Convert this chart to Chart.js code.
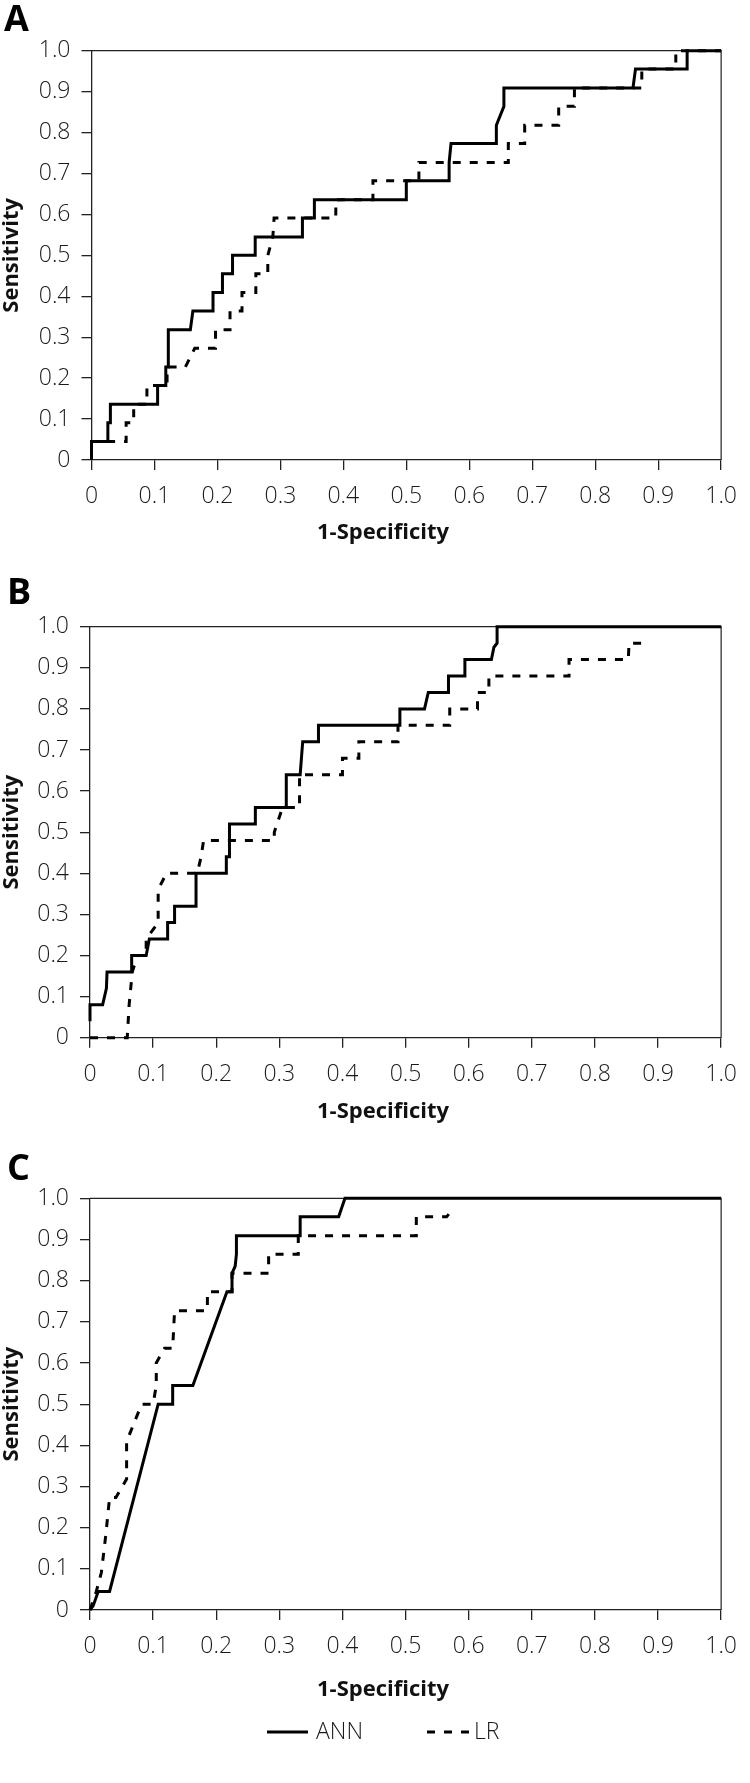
<!DOCTYPE html>
<html lang="en">
<head>
    <meta charset="UTF-8" />
    <title>ROC curves ANN vs LR</title>
    <script src="https://cdn.jsdelivr.net/npm/chart.js"></script>
    <style>
        body { margin: 0; background: #fff; }
        .panel { position: absolute; left: 0; width: 750px; }
    </style>
</head>
<body>

<div class="panel" style="top:0"><canvas id="chartA" width="750" height="560"></canvas></div>
<div class="panel" style="top:560px"><canvas id="chartB" width="750" height="575"></canvas></div>
<div class="panel" style="top:1135px"><canvas id="chartC" width="750" height="648"></canvas></div>

<script>
    // tick values / labels shared by every panel
    const tickValues = [0, 0.1, 0.2, 0.3, 0.4, 0.5, 0.6, 0.7, 0.8, 0.9, 1.0];
    const xTickLabels = ['0', '0.1', '0.2', '0.3', '0.4', '0.5', '0.6', '0.7', '0.8', '0.9', '1.0'];
    const yTickLabels = ['0', '0.1', '0.2', '0.3', '0.4', '0.5', '0.6', '0.7', '0.8', '0.9', '1.0'];
    const seriesNames = ['ANN', 'LR'];
    const panelLetters = ['A', 'B', 'C'];
    const xTitle = '1-Specificity';
    const yTitle = 'Sensitivity';

    // Panel A (1-specificity, sensitivity)
    const annAx = [0, 0, 0.026, 0.026, 0.030, 0.030, 0.105, 0.105, 0.118, 0.118, 0.122, 0.122, 0.157, 0.161, 0.193, 0.193, 0.208, 0.208, 0.224, 0.224, 0.260, 0.260, 0.335, 0.335, 0.354, 0.354, 0.500, 0.500, 0.568, 0.568, 0.571, 0.643, 0.643, 0.655, 0.655, 0.860, 0.864, 0.946, 0.946, 1.0];
    const annAy = [0, 0.045, 0.045, 0.091, 0.091, 0.136, 0.136, 0.182, 0.182, 0.227, 0.227, 0.318, 0.318, 0.364, 0.364, 0.409, 0.409, 0.455, 0.455, 0.500, 0.500, 0.545, 0.545, 0.591, 0.591, 0.636, 0.636, 0.682, 0.682, 0.727, 0.773, 0.773, 0.818, 0.864, 0.909, 0.909, 0.955, 0.955, 1.0, 1.0];
    const lrAx = [0, 0, 0.055, 0.055, 0.067, 0.067, 0.088, 0.088, 0.120, 0.120, 0.149, 0.164, 0.197, 0.197, 0.220, 0.220, 0.239, 0.239, 0.261, 0.261, 0.280, 0.280, 0.288, 0.290, 0.388, 0.388, 0.447, 0.447, 0.520, 0.520, 0.662, 0.662, 0.688, 0.688, 0.742, 0.742, 0.767, 0.767, 0.874, 0.874, 0.928, 0.928, 1.0];
    const lrAy = [0, 0.045, 0.045, 0.091, 0.091, 0.136, 0.136, 0.182, 0.182, 0.227, 0.227, 0.273, 0.273, 0.318, 0.318, 0.364, 0.364, 0.409, 0.409, 0.455, 0.455, 0.500, 0.545, 0.591, 0.591, 0.636, 0.636, 0.682, 0.682, 0.727, 0.727, 0.773, 0.773, 0.818, 0.818, 0.864, 0.864, 0.909, 0.909, 0.955, 0.955, 1.0, 1.0];

    // Panel B
    const annBx = [0, 0, 0.020, 0.026, 0.027, 0.066, 0.066, 0.089, 0.094, 0.123, 0.123, 0.134, 0.134, 0.168, 0.168, 0.216, 0.216, 0.221, 0.221, 0.262, 0.262, 0.311, 0.311, 0.333, 0.335, 0.337, 0.362, 0.362, 0.491, 0.491, 0.530, 0.536, 0.568, 0.568, 0.594, 0.594, 0.636, 0.640, 0.645, 0.645, 1.0];
    const annBy = [0.04, 0.08, 0.08, 0.12, 0.16, 0.16, 0.20, 0.20, 0.24, 0.24, 0.28, 0.28, 0.32, 0.32, 0.40, 0.40, 0.44, 0.44, 0.52, 0.52, 0.56, 0.56, 0.64, 0.64, 0.68, 0.72, 0.72, 0.76, 0.76, 0.80, 0.80, 0.84, 0.84, 0.88, 0.88, 0.92, 0.92, 0.95, 0.96, 1.0, 1.0];
    const lrBx = [0, 0.059, 0.062, 0.067, 0.075, 0.089, 0.089, 0.108, 0.108, 0.121, 0.170, 0.176, 0.180, 0.292, 0.292, 0.305, 0.332, 0.332, 0.400, 0.400, 0.426, 0.426, 0.488, 0.488, 0.570, 0.570, 0.614, 0.614, 0.632, 0.632, 0.759, 0.759, 0.853, 0.854, 0.885];
    const lrBy = [0, 0, 0.08, 0.16, 0.20, 0.20, 0.24, 0.28, 0.36, 0.40, 0.40, 0.44, 0.48, 0.48, 0.50, 0.56, 0.56, 0.64, 0.64, 0.68, 0.68, 0.72, 0.72, 0.76, 0.76, 0.80, 0.80, 0.84, 0.84, 0.88, 0.88, 0.92, 0.92, 0.96, 0.96];

    // Panel C
    const annCx = [0, 0.005, 0.013, 0.031, 0.108, 0.131, 0.131, 0.163, 0.217, 0.225, 0.225, 0.230, 0.232, 0.232, 0.333, 0.333, 0.394, 0.404, 1.0];
    const annCy = [0, 0.010, 0.045, 0.045, 0.500, 0.500, 0.545, 0.545, 0.773, 0.773, 0.818, 0.835, 0.864, 0.909, 0.909, 0.955, 0.955, 1.0, 1.0];
    const lrCx = [0, 0.010, 0.018, 0.025, 0.031, 0.041, 0.058, 0.058, 0.070, 0.082, 0.100, 0.105, 0.105, 0.118, 0.131, 0.134, 0.186, 0.186, 0.225, 0.225, 0.283, 0.283, 0.330, 0.330, 0.517, 0.517, 0.565, 0.573];
    const lrCy = [0, 0.045, 0.091, 0.182, 0.273, 0.273, 0.318, 0.409, 0.455, 0.500, 0.500, 0.545, 0.600, 0.636, 0.636, 0.727, 0.727, 0.773, 0.773, 0.818, 0.818, 0.864, 0.864, 0.909, 0.909, 0.955, 0.955, 0.970];

    const FONT = '"Open Sans", "DejaVu Sans", sans-serif';

    // draws frame (top/right), panel letter, x title and the legend
    const decor = {
        id: 'decor',
        beforeDatasetsDraw(chart) {
            const { ctx, chartArea: a } = chart;
            ctx.save();
            ctx.strokeStyle = '#222';
            ctx.lineWidth = 1.2;
            ctx.beginPath();
            ctx.moveTo(a.left, a.top);
            ctx.lineTo(a.right, a.top);
            ctx.lineTo(a.right, a.bottom);
            ctx.stroke();
            ctx.restore();
        },
        afterDraw(chart, args, opts) {
            const { ctx } = chart;
            ctx.save();
            ctx.fillStyle = '#000';
            ctx.textBaseline = 'alphabetic';
            ctx.textAlign = 'left';
            ctx.font = 'bold 36px ' + FONT;
            ctx.fillText(opts.letter, opts.letterX, opts.letterY);

            ctx.fillStyle = '#111';
            ctx.textAlign = 'center';
            ctx.textBaseline = 'middle';
            ctx.font = 'bold 22px ' + FONT;
            ctx.fillText(xTitle, opts.xTitleX, opts.xTitleY);

            if (opts.legend) {
                const L = opts.legend;
                ctx.textAlign = 'left';
                ctx.font = '300 23px ' + FONT;
                chart.data.datasets.forEach((ds, i) => {
                    const it = L.items[i];
                    ctx.strokeStyle = ds.borderColor;
                    ctx.lineWidth = ds.borderWidth;
                    ctx.setLineDash(ds.borderDash || []);
                    ctx.beginPath();
                    ctx.moveTo(it.x, L.y);
                    ctx.lineTo(it.x + it.w, L.y);
                    ctx.stroke();
                    ctx.setLineDash([]);
                    ctx.fillStyle = '#1a1a1a';
                    ctx.fillText(ds.label, it.tx, L.y);
                });
            }
            ctx.restore();
        }
    };

    const toPts = (xs, ys) => xs.map((x, i) => ({ x: x, y: ys[i] }));

    function makePanel(id, g, annX, annY, lrX, lrY) {
        const xh = g.height - g.padBottom - g.bottom;
        const tickFont = { family: FONT, size: 23, weight: 300 };
        const gridOpts = { drawOnChartArea: false, drawTicks: true, tickLength: 10, color: '#222', lineWidth: 1.3 };
        const borderOpts = { display: true, color: '#222', width: 1.3 };

        return new Chart(document.getElementById(id), {
            type: 'scatter',
            data: {
                datasets: [
                    { label: seriesNames[0], data: toPts(annX, annY), showLine: true, borderColor: '#000',
                      borderWidth: 3, pointRadius: 0, tension: 0, clip: false },
                    { label: seriesNames[1], data: toPts(lrX, lrY), showLine: true, borderColor: '#000',
                      borderWidth: 3, borderDash: [8, 9], pointRadius: 0, tension: 0, clip: false }
                ]
            },
            options: {
                responsive: false,
                animation: false,
                events: [],
                layout: { padding: { top: g.top, left: 0, right: 750 - g.right, bottom: g.padBottom } },
                plugins: {
                    legend: { display: false },
                    tooltip: { enabled: false },
                    decor: {
                        letter: g.letter, letterX: g.letterX, letterY: g.letterY,
                        xTitleX: 383, xTitleY: g.xTitleY, legend: g.legend
                    }
                },
                scales: {
                    x: {
                        type: 'linear', min: 0, max: 1,
                        afterFit: s => { s.height = xh; },
                        afterBuildTicks: s => { s.ticks = tickValues.map(v => ({ value: v })); },
                        ticks: {
                            callback: (v, i) => xTickLabels[i],
                            font: tickFont, color: '#1a1a1a', padding: 13, maxRotation: 0, autoSkip: false
                        },
                        grid: gridOpts,
                        border: borderOpts
                    },
                    y: {
                        type: 'linear', min: 0, max: 1,
                        afterFit: s => { s.width = g.left; },
                        afterBuildTicks: s => { s.ticks = tickValues.map(v => ({ value: v })); },
                        ticks: {
                            callback: (v, i) => yTickLabels[i],
                            font: tickFont, color: '#1a1a1a', padding: 11, autoSkip: false
                        },
                        grid: gridOpts,
                        border: borderOpts,
                        title: {
                            display: true, text: yTitle, color: '#111',
                            font: { family: FONT, size: 22, weight: 'bold', lineHeight: 1.1 },
                            padding: 0
                        }
                    }
                }
            },
            plugins: [decor]
        });
    }

    makePanel('chartA', { letter: panelLetters[0], top: 50.7, bottom: 460, left: 91.5, right: 733, height: 560,
        padBottom: 0, xTitleY: 533, letterX: 4, letterY: 31 }, annAx, annAy, lrAx, lrAy);

    makePanel('chartB', { letter: panelLetters[1], top: 66.7, bottom: 477.7, left: 90, right: 733, height: 575,
        padBottom: 0, xTitleY: 552, letterX: 7, letterY: 44 }, annBx, annBy, lrBx, lrBy);

    makePanel('chartC', { letter: panelLetters[2], top: 63.3, bottom: 475, left: 90, right: 734, height: 648,
        padBottom: 60, xTitleY: 555, letterX: 7, letterY: 45,
        legend: { y: 597, items: [{ x: 267, w: 41, tx: 316 }, { x: 427, w: 42, tx: 474 }] } },
        annCx, annCy, lrCx, lrCy);
</script>
</body>
</html>
